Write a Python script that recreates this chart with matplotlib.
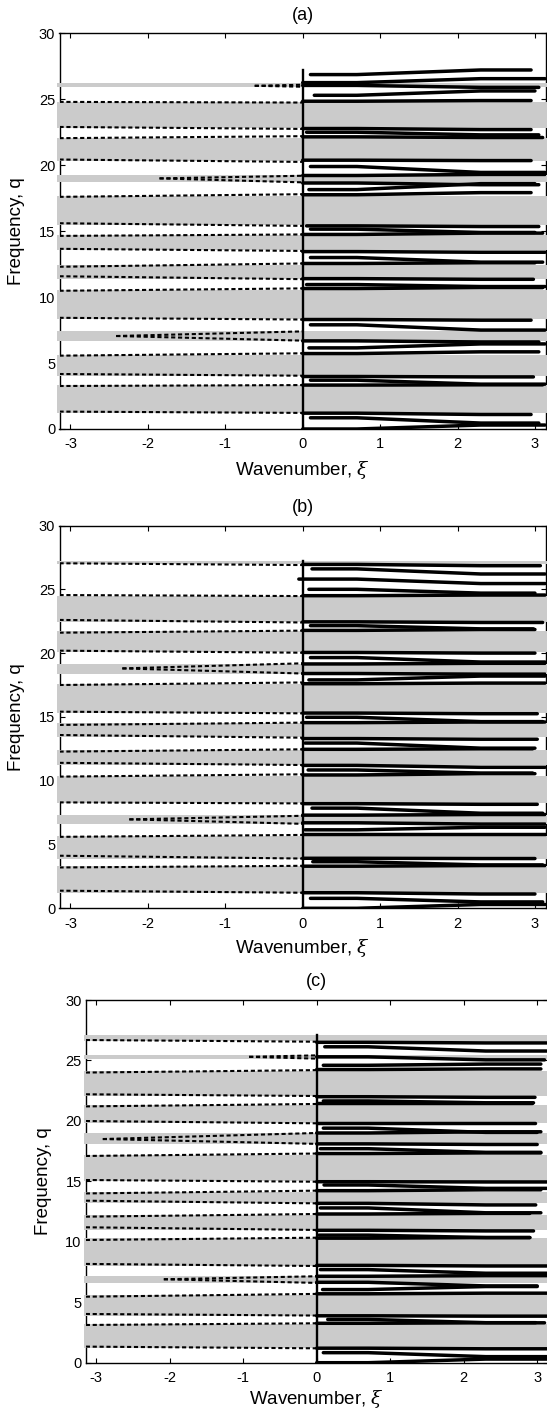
import numpy as np
import matplotlib
matplotlib.use("Agg")
import matplotlib.pyplot as plt

plt.rcParams['font.family'] = ['Liberation Sans', 'DejaVu Sans']
plt.rcParams['mathtext.fontset'] = 'dejavuserif'

PI = np.pi
x_ticks = [-3, -2, -1, 0, 1, 2, 3]
y_ticks = [0, 5, 10, 15, 20, 25, 30]
panel_titles = ['(a)', '(b)', '(c)']
x_label = 'Wavenumber, $\\xi$'
y_label = 'Frequency, q'

# stop bands (gray): (low, high)
gray_a = [(1.22, 3.3), (4.04, 5.6), (6.7, 7.4), (8.35, 10.55), (11.4, 12.45), (13.55, 14.7),
          (15.45, 17.7), (18.7, 19.25), (20.3, 22.1), (22.8, 24.8), (25.9, 26.25)]
gray_b = [(1.22, 3.3), (3.9, 5.7), (6.64, 7.28), (8.22, 10.4), (11.23, 12.4), (13.4, 14.5),
          (15.3, 17.6), (18.4, 19.15), (20.05, 21.7), (22.45, 24.5), (27.0, 27.2)]
gray_c = [(1.2, 3.2), (3.9, 5.6), (6.58, 7.16), (8.0, 10.3), (11.0, 12.2), (13.2, 14.1),
          (15.0, 17.2), (18.12, 19.0), (19.85, 21.3), (22.1, 24.1), (25.12, 25.45), (26.6, 27.1)]

# dashed (imaginary part) lines on the left: (q at xi=-pi, q at xi=0)
dashed_a = [(24.8, 24.75), (22.9, 22.75), (22.05, 22.2), (20.43, 20.25), (17.6, 17.8), (15.6, 15.4),
            (14.64, 14.75), (13.66, 13.5), (12.3, 12.55), (11.58, 11.36), (10.48, 10.66), (8.43, 8.3),
            (5.56, 5.74), (4.17, 4.04), (3.26, 3.33), (1.32, 1.22)]
dashed_b = [(27.04, 26.9), (24.55, 24.47), (22.6, 22.4), (21.6, 21.76), (20.19, 20.03), (17.5, 17.7),
            (15.41, 15.28), (14.37, 14.55), (13.58, 13.37), (12.28, 12.46), (11.4, 11.23), (10.32, 10.5),
            (8.3, 8.22), (5.6, 5.75), (4.12, 3.9), (3.2, 3.33), (1.38, 1.22)]
dashed_c = [(26.69, 26.55), (24.0, 24.2), (22.2, 22.06), (21.2, 21.4), (19.99, 19.8), (17.1, 17.3),
            (15.11, 14.97), (14.0, 14.23), (13.4, 13.18), (12.08, 12.3), (11.2, 10.98), (10.15, 10.34),
            (8.17, 8.0), (5.46, 5.69), (4.03, 3.9), (3.12, 3.26), (1.33, 1.19)]

# dashed wedges: (xi tip, q tip, q upper at 0, q lower at 0)
wedge_a = [(-0.62, 26.02, 26.1, 25.95), (-1.85, 19.0, 19.2, 18.7), (-2.41, 7.05, 7.4, 6.7)]
wedge_b = [(-2.33, 18.8, 19.2, 18.4), (-2.24, 6.97, 7.25, 6.62)]
wedge_c = [(-0.92, 25.3, 25.42, 25.15), (-2.91, 18.5, 19.0, 18.1), (-2.08, 6.9, 7.15, 6.6)]

# solid real branches on the right: (xi start, q start, xi end, q end)
solid_a = [(0.1, 26.87, 2.95, 27.22), (0.0, 26.26, 3.13, 26.56), (0.0, 26.05, 3.05, 25.9),
           (0.15, 25.3, 3.0, 25.63), (0.0, 24.85, 2.95, 24.9),
           (0.0, 22.78, 2.95, 22.7), (0.05, 22.5, 3.05, 22.3), (0.0, 22.15, 3.1, 22.1),
           (0.0, 20.38, 2.95, 20.35), (0.1, 19.9, 3.13, 19.45), (0.0, 19.22, 3.13, 19.3),
           (0.0, 18.65, 3.05, 18.52), (0.08, 18.15, 3.0, 18.6), (0.0, 17.76, 2.95, 17.92),
           (0.05, 15.4, 3.05, 15.35), (0.1, 15.15, 3.0, 14.9), (0.0, 14.75, 3.1, 14.85),
           (0.0, 13.45, 3.13, 13.4), (0.1, 13.0, 3.1, 12.65), (0.0, 12.55, 3.0, 12.6),
           (0.0, 11.4, 2.98, 11.35), (0.05, 10.95, 3.13, 10.8), (0.0, 10.65, 3.1, 10.72),
           (0.0, 8.3, 2.95, 8.25), (0.1, 7.9, 3.13, 7.5), (0.0, 6.68, 3.05, 6.6),
           (0.08, 6.15, 3.13, 6.45), (0.0, 5.72, 3.05, 5.85),
           (0.0, 3.98, 2.98, 3.95), (0.1, 3.7, 3.13, 3.4), (0.0, 3.33, 3.1, 3.35),
           (0.0, 1.2, 2.95, 1.1), (0.1, 0.85, 3.05, 0.45), (0.0, 0.0, 3.13, 0.3)]
solid_b = [(0.0, 26.95, 3.07, 26.85), (0.12, 26.6, 3.13, 26.2), (-0.05, 25.8, 3.13, 25.45),
           (0.08, 25.0, 3.0, 24.7), (0.0, 24.5, 3.13, 24.55),
           (0.0, 22.45, 3.1, 22.4), (0.1, 22.15, 2.98, 21.9), (0.0, 21.78, 3.0, 21.85),
           (0.0, 20.05, 3.0, 20.0), (0.1, 19.65, 3.13, 19.3), (0.0, 19.15, 3.13, 19.2),
           (0.0, 18.4, 3.13, 18.35), (0.08, 17.9, 3.13, 18.2), (0.0, 17.6, 3.13, 17.65),
           (0.0, 15.3, 3.03, 15.25), (0.05, 14.97, 3.1, 14.63), (0.0, 14.55, 3.13, 14.6),
           (0.0, 13.3, 3.03, 13.25), (0.03, 12.95, 3.0, 12.55), (0.0, 12.46, 2.97, 12.5),
           (0.0, 11.2, 3.13, 11.05), (0.07, 10.84, 2.97, 10.6), (0.0, 10.45, 3.0, 10.55),
           (0.0, 8.2, 3.03, 8.15), (0.12, 7.85, 3.1, 7.45), (0.0, 7.3, 3.13, 7.35),
           (0.0, 6.7, 3.13, 6.6), (0.03, 6.15, 3.13, 6.35), (0.0, 5.8, 3.13, 5.8),
           (0.0, 3.92, 3.0, 3.9), (0.13, 3.65, 3.1, 3.4), (0.0, 3.3, 3.13, 3.35),
           (0.0, 1.22, 3.0, 1.12), (0.1, 0.78, 3.1, 0.5), (0.0, 0.0, 3.13, 0.3)]
solid_c = [(0.0, 26.5, 3.13, 26.45), (0.11, 26.13, 3.13, 25.78), (0.0, 25.3, 3.1, 25.05),
           (0.09, 24.6, 3.05, 24.7), (0.0, 24.25, 3.05, 24.3),
           (0.0, 22.0, 2.97, 21.95), (0.09, 21.65, 2.95, 21.5), (0.0, 21.45, 2.93, 21.45),
           (0.0, 19.8, 2.97, 19.8), (0.09, 19.4, 3.0, 19.05), (0.0, 19.0, 3.05, 19.1),
           (0.0, 18.1, 3.0, 18.05), (0.05, 17.7, 3.05, 17.4), (0.0, 17.3, 3.05, 17.35),
           (0.0, 14.97, 3.13, 14.95), (0.1, 14.7, 3.13, 14.42), (0.0, 14.23, 3.05, 14.3),
           (0.0, 13.18, 2.98, 13.05), (0.05, 12.8, 3.05, 12.4), (0.0, 12.3, 2.9, 12.35),
           (0.0, 10.95, 2.95, 10.9), (0.03, 10.55, 2.9, 10.35), (0.0, 10.3, 2.9, 10.35),
           (0.0, 8.05, 3.13, 8.0), (0.05, 7.7, 3.13, 7.4), (0.0, 7.15, 3.13, 7.2),
           (0.0, 6.65, 3.0, 6.35), (0.08, 6.05, 3.0, 6.3), (0.0, 5.7, 3.13, 5.75),
           (0.0, 3.88, 3.13, 3.85), (0.15, 3.58, 2.98, 3.31), (0.0, 3.26, 3.1, 3.3),
           (0.0, 1.2, 3.13, 1.15), (0.09, 0.83, 3.13, 0.5), (0.0, 0.0, 3.13, 0.3)]

# xi range over which a branch crosses from its start level to its end level
cross_xi = (0.7, 2.3)
zero_line_top = [27.2, 27.2, 27.1]

panels = [
    dict(gray=gray_a, dashed=dashed_a, wedge=wedge_a, solid=solid_a),
    dict(gray=gray_b, dashed=dashed_b, wedge=wedge_b, solid=solid_b),
    dict(gray=gray_c, dashed=dashed_c, wedge=wedge_c, solid=solid_c),
]

W, H = 547, 1414
fig = plt.figure(figsize=(W / 100, H / 100), dpi=100)

# layout in pixels: (left, right, top, bottom)
boxes = [(59.5, 545.9, 33.3, 429.0), (59.5, 545.9, 525.5, 908.3), (85.8, 547.6, 1000.0, 1362.7)]
title_y = [15, 507, 982]
xlabel_y = [470, 948, 1399]
ylabel_x = [17, 17, 44]

GRAY = '#cbcbcb'
DASH = (0, (2.0, 1.3))

for i, (p, box) in enumerate(zip(panels, boxes)):
    l, r, t, b = box
    ax = fig.add_axes([l / W, 1 - b / H, (r - l) / W, (b - t) / H])
    ax.set_xlim(-PI, PI)
    ax.set_ylim(0, 30)
    for lo, hi in p['gray']:
        ax.fill_between([-PI - 0.03, PI + 0.03], lo, hi, color=GRAY, lw=0, zorder=3, clip_on=False)
    for yl, yr in p['dashed']:
        ax.plot([-PI, 0], [yl, yr], color='black', lw=1.5, linestyle=DASH, zorder=4)
    for xt, yt, yu, yd in p['wedge']:
        ax.plot([xt, 0], [yt, yu], color='black', lw=1.5, linestyle=DASH, zorder=4)
        ax.plot([xt, 0], [yt, yd], color='black', lw=1.5, linestyle=DASH, zorder=4)
    for x0, y0, x1, y1 in p['solid']:
        ax.plot([x0, cross_xi[0], cross_xi[1], x1], [y0, y0, y1, y1], color='black', lw=2.5,
                solid_capstyle='round', solid_joinstyle='round', zorder=5)
    ax.plot([0, 0], [0, zero_line_top[i]], color='black', lw=1.7, zorder=6)

    ax.set_xticks(x_ticks)
    ax.set_xticklabels([str(v) for v in x_ticks])
    ax.set_yticks(y_ticks)
    ax.tick_params(direction='in', top=True, right=True, length=3.5, width=0.8,
                   labelsize=10.5, pad=3)
    ax.tick_params(axis='x', pad=6)
    for s in ax.spines.values():
        s.set_linewidth(1.0)

    cx = (l + (r - l) / 2) / W
    fig.text(cx, 1 - title_y[i] / H, panel_titles[i], ha='center', va='center', fontsize=13)
    fig.text(cx, 1 - xlabel_y[i] / H, x_label, ha='center', va='center', fontsize=13.5)
    fig.text(ylabel_x[i] / W, 1 - (t + b) / 2 / H, y_label, ha='center', va='center',
             rotation=90, fontsize=13.5)

fig.savefig('out.png', dpi=100)
